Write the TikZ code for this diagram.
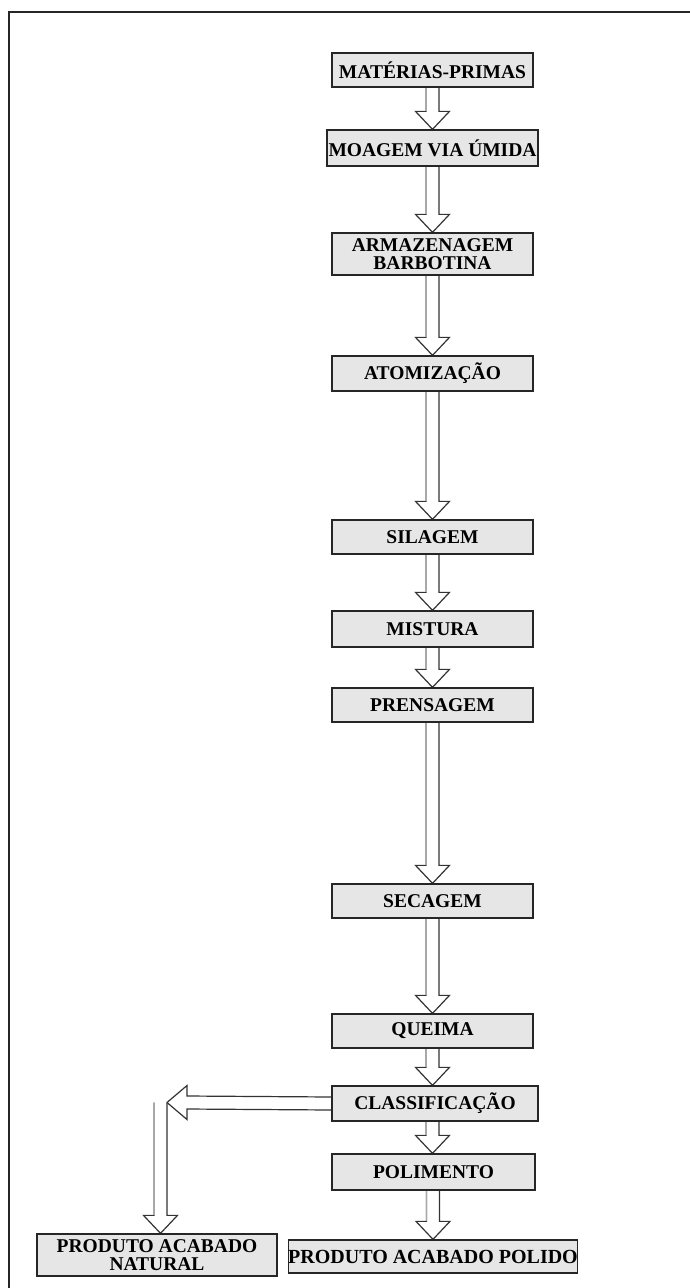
\documentclass[tikz,border=0pt]{standalone}
\usepackage{fontspec}
\setmainfont{Liberation Serif}
\usepackage{tikz}
\usetikzlibrary{calc,backgrounds}
\definecolor{boxfill}{HTML}{E6E6E6}
\definecolor{shaftgray}{HTML}{A8A8A8}

\tikzset{
  stage/.style={draw=black!85,fill=boxfill,line width=1.3pt,inner sep=0pt,
        minimum width=201pt,minimum height=34pt,align=center,
        font=\bfseries\fontsize{19.5}{18}\selectfont},
  blockarrow/.style={draw=black!80,fill=white,line width=1.2pt,line join=miter},
  shaftshade/.style={draw=shaftgray,line width=1.4pt},
  frame/.style={draw=black!85,line width=2pt}
}
% block arrow pointing down, from #1 to tip #2
\newcommand{\flowdown}[2]{%
  \draw[blockarrow] ($(#1)+(-6.5,0)$) -- ($(#2)+(-6.5,-18)$) -- ($(#2)+(-17,-18)$)
    -- (#2) -- ($(#2)+(17,-18)$) -- ($(#2)+(6.5,-18)$) -- ($(#1)+(6.5,0)$);
  \draw[shaftshade] ($(#1)+(-6.5,0)$) -- ($(#2)+(-6.5,-18)$);}

\begin{document}
\begin{tikzpicture}[x=1pt,y=-1pt]
  \useasboundingbox (0,0) rectangle (690,1288);
  \draw[frame] (8.5,1288) -- (8.5,11.5) -- (690,11.5);

  \node[stage] (mat) at (432.5,70) {MATÉRIAS-PRIMAS};
  \node[stage,minimum width=211pt,minimum height=36pt] (moa) at (432.5,148) {MOAGEM VIA ÚMIDA};
  \node[stage,minimum height=42pt] (arm) at (432.5,254) {ARMAZENAGEM\\BARBOTINA};
  \node[stage,minimum height=35pt] (ato) at (432.5,373.5) {ATOMIZAÇÃO};
  \node[stage] (sil) at (432.5,537) {SILAGEM};
  \node[stage,minimum height=36pt] (mis) at (432.5,629) {MISTURA};
  \node[stage] (pre) at (432.5,705) {PRENSAGEM};
  \node[stage] (sec) at (432.5,901) {SECAGEM};
  \node[stage] (que) at (432.5,1031) {QUEIMA};
  \node[stage,minimum width=206pt,minimum height=35pt] (cla) at (435,1103.5) {CLASSIFICAÇÃO};
  \node[stage,minimum width=203pt,minimum height=36pt] (pol) at (433.5,1172) {POLIMENTO};
  \node[stage,minimum width=288pt,minimum height=33pt,
        font=\bfseries\fontsize{20}{18}\selectfont] (pod) at (433,1256.5) {PRODUTO ACABADO POLIDO};
  \node[stage,minimum width=240pt,minimum height=42pt] (nat) at (157,1255) {PRODUTO ACABADO\\NATURAL};

  \coordinate (bend) at (167,1102.5);
  \coordinate (drop) at (160.5,1102.5);
  \coordinate (natin) at (drop |- nat.north);

  \begin{scope}[on background layer]
    \flowdown{mat.south}{moa.north}
    \flowdown{moa.south}{arm.north}
    \flowdown{arm.south}{ato.north}
    \flowdown{ato.south}{sil.north}
    \flowdown{sil.south}{mis.north}
    \flowdown{mis.south}{pre.north}
    \flowdown{pre.south}{sec.north}
    \flowdown{sec.south}{que.north}
    \flowdown{que.south}{cla.north -| que.south}
    \flowdown{cla.south -| que.south}{pol.north -| que.south}
    \flowdown{pol.south -| pod.north}{pod.north}
    % branch to the left
    \draw[blockarrow] ($(cla.west)+(0,-6.5)$) -- ($(bend)+(20,-6.5)$) -- ($(bend)+(20,-17)$)
      -- (bend) -- ($(bend)+(20,17)$) -- ($(bend)+(20,6.5)$) -- ($(cla.west)+(0,6.5)$);
    \flowdown{drop}{natin}
  \end{scope}
\end{tikzpicture}
\end{document}
